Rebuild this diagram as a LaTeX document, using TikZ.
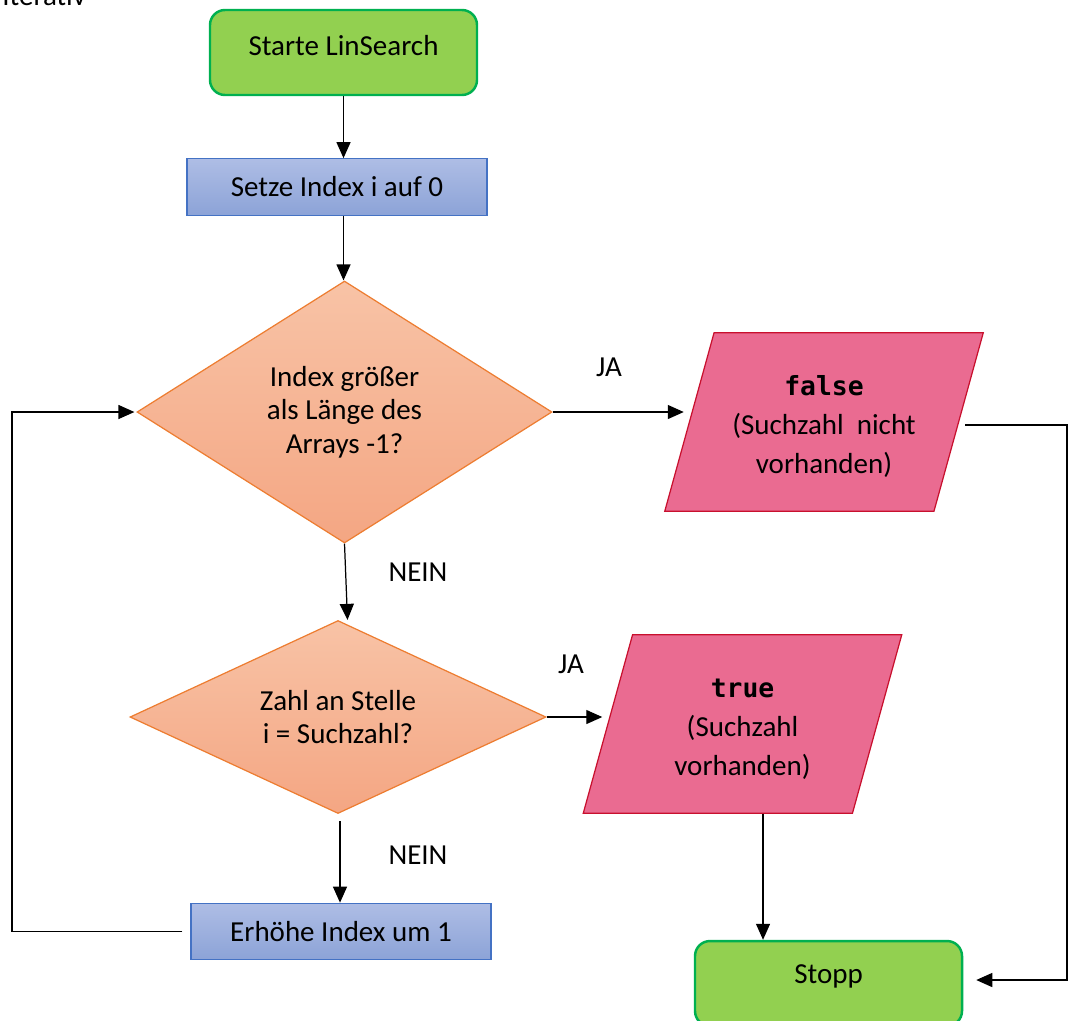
\documentclass[tikz,border=0pt]{standalone}
\usepackage{fontspec}
\setmainfont{Carlito}
\newfontfamily\codefont{DejaVu Sans Mono}
\usetikzlibrary{shapes.geometric,arrows.meta}

\definecolor{termfill}{HTML}{92D050}
\definecolor{termline}{HTML}{00B050}
\definecolor{procline}{HTML}{4472C4}
\definecolor{proctop}{HTML}{AEBDE5}
\definecolor{procbot}{HTML}{8CA3D7}
\definecolor{decline}{HTML}{ED7D31}
\definecolor{dectop}{HTML}{F8C3A6}
\definecolor{decbot}{HTML}{F4A683}
\definecolor{outfill}{HTML}{EA6B91}
\definecolor{outline}{HTML}{C8102E}

\newcommand{\uptext}[1]{\raisebox{0.14cm}[\height][\depth]{#1}}
\newcommand{\code}[1]{\rule{0pt}{16.5pt}{\codefont\bfseries\fontsize{15}{22}\selectfont #1}}

\begin{document}
\begin{tikzpicture}[
	font=\fontsize{16.5}{19}\selectfont,
	terminal/.style={rectangle, rounded corners=0.3cm, draw=termline, line width=1.4pt,
		fill=termfill, minimum width=5.34cm, minimum height=1.7cm},
	process/.style={rectangle, draw=procline, line width=0.7pt, top color=proctop,
		bottom color=procbot, minimum width=6cm, minimum height=1.13cm},
	decision/.style={diamond, draw=decline, line width=0.7pt, top color=dectop,
		bottom color=decbot, inner sep=0pt, align=center},
	output/.style={trapezium, trapezium left angle=68, trapezium right angle=112,
		trapezium stretches body, draw=outline, line width=0.7pt, fill=outfill,
		minimum width=6.37cm, minimum height=3.57cm, align=center,
		font=\fontsize{16.5}{22}\selectfont},
	arr/.style={-{Triangle[length=0.32cm,width=0.28cm]}, line width=0.7pt},
	lbl/.style={inner sep=0pt}
]
	\useasboundingbox (0,0) rectangle (21.46,-20.4);

	\node[lbl, anchor=base west] (title) at (0.04,-0.1) {Iterativ};

	\node[terminal] (start) at (6.87,-1.05) {\uptext{Starte LinSearch}};
	\node[process] (setze) at (6.74,-3.74) {Setze Index i auf 0};
	\node[decision, aspect=1.58, minimum width=8.3cm, minimum height=5.24cm] (d1) at (6.89,-8.24)
		{Index größer\\als Länge des\\Arrays -1?};
	\node[output] (false) at (16.48,-8.44)
		{\code{false}\\(Suchzahl\ \ nicht\\vorhanden)};
	\node[decision, aspect=2.17, minimum width=8.32cm, minimum height=3.86cm] (d2) at (6.76,-14.34)
		{Zahl an Stelle\\i = Suchzahl?};
	\node[output] (true) at (14.85,-14.48)
		{\code{true}\\(Suchzahl\\vorhanden)};
	\node[process] (erh) at (6.82,-18.63) {Erhöhe Index um 1};
	\node[terminal] (stopp) at (16.57,-19.67) {\uptext{Stopp}};

	\node[lbl] (ja1) at (12.18,-7.34) {JA};
	\node[lbl] (nein1) at (8.36,-11.44) {NEIN};
	\node[lbl] (ja2) at (11.42,-13.28) {JA};
	\node[lbl] (nein2) at (8.36,-17.1) {NEIN};

	\coordinate (rturn) at (21.34,0);
	\coordinate (lturn) at (0.24,0);

	\draw[arr] (start.south) -- (start.south |- setze.north);
	\draw[arr] (start.south |- setze.south) -- (start.south |- d1.north);
	\draw[arr] (d1.south) -- ([xshift=0.06cm]d1.south |- d2.north);
	\draw[arr] (d1.east) -- ([xshift=-0.1cm]false.west |- d1.east);
	\draw[arr] (d2.east) -- ([xshift=-0.1cm]true.west |- d2.east);
	\draw[arr, shorten <=0.14cm] ([xshift=0.04cm]d2.south) -- ([xshift=0.04cm]d2.south |- erh.north);
	\draw[arr] ([xshift=-0.16cm]erh.west) -- (lturn |- erh.west) |- ([xshift=-0.04cm]d1.west);
	\draw[arr] ([xshift=0.12cm,yshift=-0.06cm]false.east) -- ([yshift=-0.06cm]rturn |- false.east)
		|- ([xshift=0.26cm,yshift=0.07cm]stopp.east);
	\draw[arr] ([xshift=0.41cm]true.south) -- ([xshift=0.41cm]true.south |- stopp.north);

\end{tikzpicture}
\end{document}
